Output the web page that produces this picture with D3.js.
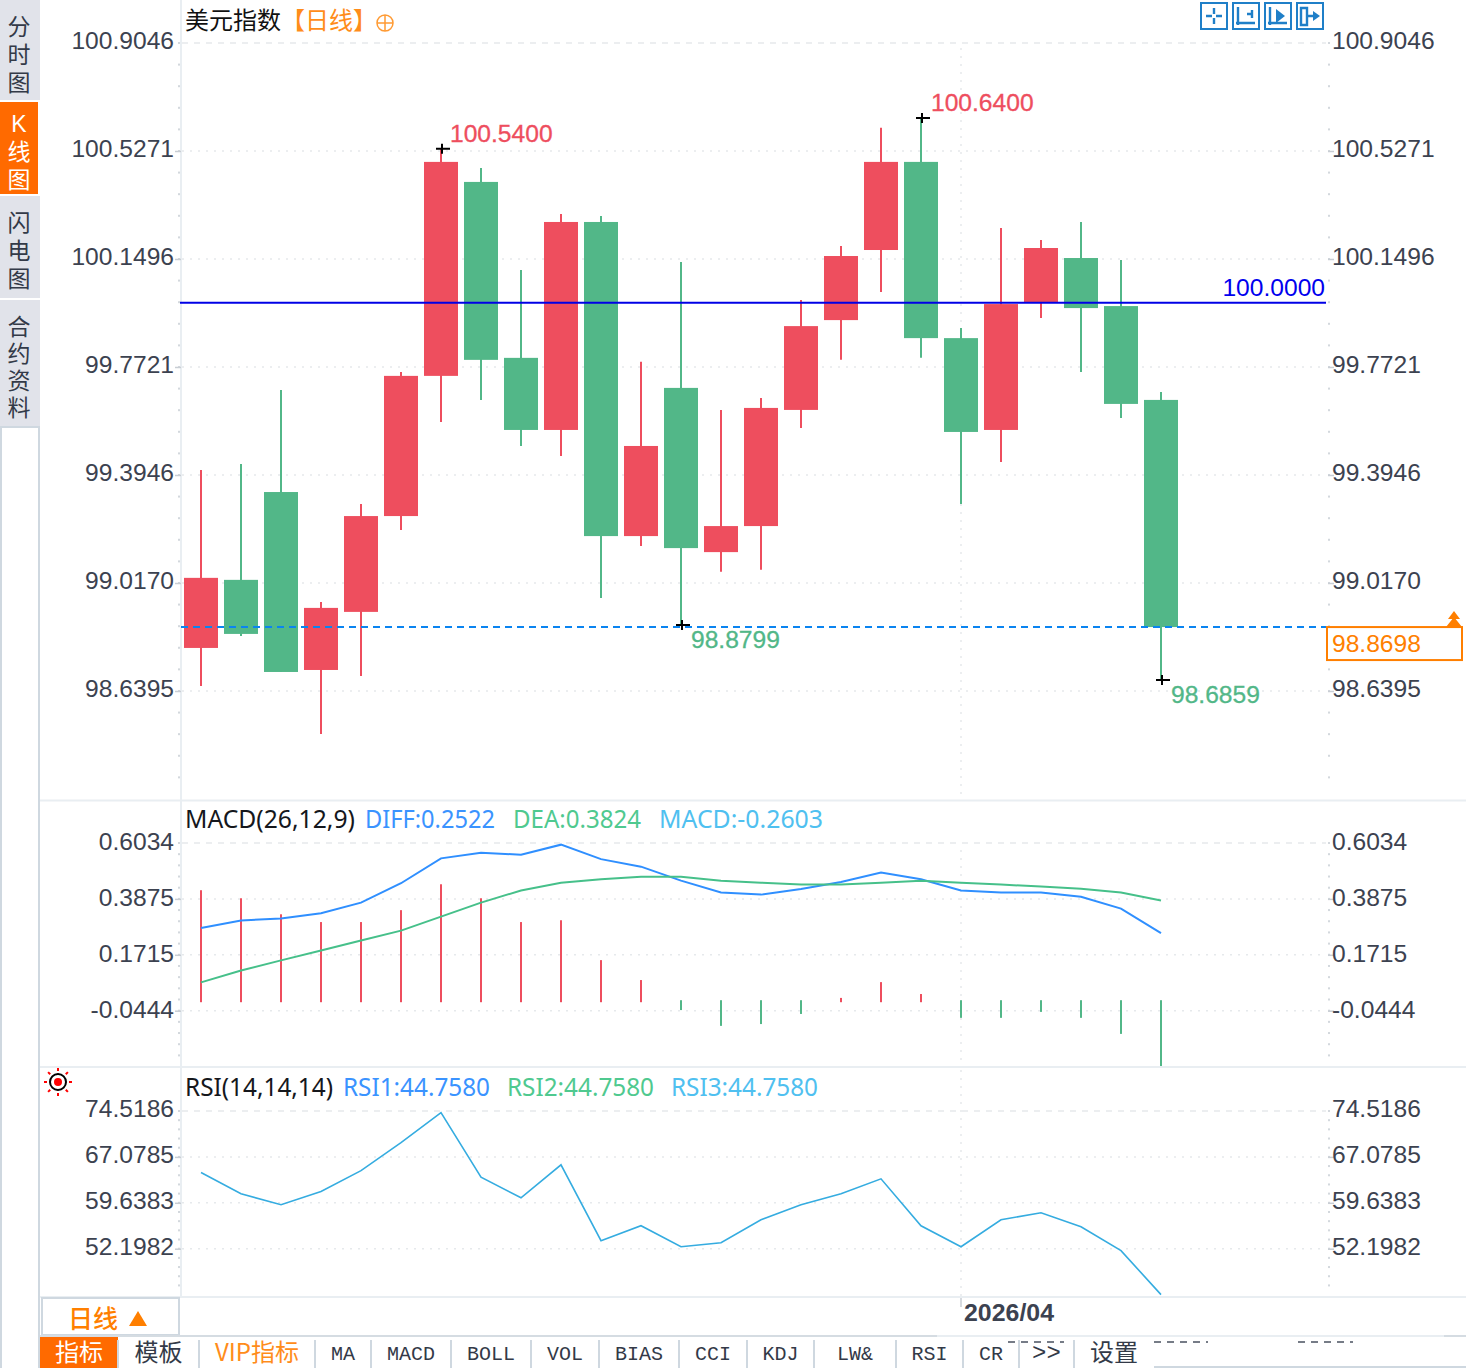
<!DOCTYPE html>
<html>
<head>
<meta charset="utf-8">
<script src="https://cdn.jsdelivr.net/npm/d3@7"></script>
<style>
  html, body { margin: 0; padding: 0; background: #fff; }
  svg { display: block; }
  text { font-family: "Liberation Sans", Arial, sans-serif; }
  .cjk { font-family: "Noto Sans CJK SC", sans-serif; }
  .tab { font-family: "Liberation Sans", "Noto Sans CJK SC", sans-serif; }
  .mono { font-family: "Liberation Mono", monospace; }
</style>
</head>
<body>
<svg id="chart" width="1466" height="1368"></svg>
<script>
// values
const opens  = [98.790, 99.028, 99.335, 98.713, 98.916, 99.251, 99.741, 100.419, 99.804, 99.552, 100.279, 99.181, 99.699, 99.125, 99.216, 99.622, 99.936, 100.181, 100.489, 99.873, 99.552, 99.999, 100.153, 99.985, 99.657];
const closes = [99.035, 98.839, 98.706, 98.930, 99.251, 99.741, 100.489, 99.797, 99.552, 100.279, 99.181, 99.496, 99.139, 99.216, 99.629, 99.915, 100.160, 100.489, 99.873, 99.545, 99.992, 100.188, 99.978, 99.643, 98.863];
const highs  = [99.412, 99.433, 99.692, 98.951, 99.293, 99.755, 100.535, 100.468, 100.111, 100.307, 100.300, 99.790, 100.139, 99.622, 99.664, 100.006, 100.195, 100.608, 100.642, 99.908, 100.258, 100.216, 100.279, 100.146, 99.685];
const lows   = [98.657, 98.832, 98.706, 98.489, 98.692, 99.202, 99.580, 99.657, 99.496, 99.461, 98.965, 99.146, 98.870, 99.056, 99.063, 99.559, 99.797, 100.034, 99.804, 99.293, 99.440, 99.943, 99.755, 99.594, 98.678];

const macdHist = [0.421, 0.390, 0.328, 0.298, 0.298, 0.344, 0.444, 0.390, 0.298, 0.305, 0.151, 0.074, -0.042, -0.103, -0.096, -0.057, 0.005, 0.066, 0.020, -0.072, -0.072, -0.049, -0.072, -0.134, -0.258];
const diff = [0.275, 0.304, 0.312, 0.332, 0.373, 0.448, 0.544, 0.566, 0.558, 0.597, 0.541, 0.512, 0.458, 0.412, 0.404, 0.426, 0.453, 0.489, 0.463, 0.420, 0.412, 0.412, 0.396, 0.350, 0.255];
const dea  = [0.065, 0.111, 0.150, 0.188, 0.227, 0.265, 0.319, 0.373, 0.420, 0.450, 0.463, 0.473, 0.473, 0.458, 0.450, 0.443, 0.443, 0.450, 0.458, 0.450, 0.443, 0.435, 0.427, 0.412, 0.381];
const rsi  = [64.54, 61.10, 59.32, 61.47, 64.86, 69.39, 74.25, 63.80, 60.45, 65.79, 53.49, 55.92, 52.52, 53.17, 56.89, 59.32, 61.10, 63.52, 55.92, 52.52, 56.89, 58.02, 55.76, 51.88, 44.758];

const mainTicks = [100.9046, 100.5271, 100.1496, 99.7721, 99.3946, 99.0170, 98.6395];
const macdTicks = [0.6034, 0.3875, 0.1715, -0.0444];
const rsiTicks  = [74.5186, 67.0785, 59.6383, 52.1982];

const refLevel = 100.0000;
const lastLevel = 98.863;
const lastLabel = "98.8698";
const monthIndex = 19;   // candle where 2026/04 starts

const sideTabs = [["分","时","图"], ["K","线","图"], ["闪","电","图"], ["合","约","资","料"]];
const bottomTabs = ["指标","模板","VIP指标","MA","MACD","BOLL","VOL","BIAS","CCI","KDJ","LW&","RSI","CR",">>","设置"];
const bottomEdges = [40, 118, 199, 315, 371, 451, 531, 599, 679, 747, 814, 896, 963, 1019, 1074, 1154];

const red = "#ee4e5e", green = "#52b788";
const gridCol = "#e6e9ec", lineCol = "#e9eef2", labelCol = "#3c4250";

const svg = d3.select("#chart");
const x = d3.scalePoint().domain(d3.range(opens.length)).range([201, 1161]);
const yMain = d3.scaleLinear().domain([100.9046, 98.6395]).range([43, 691]);
const yMacd = d3.scaleLinear().domain([0.6034, -0.0444]).range([843, 1010.7]);
const yRsi  = d3.scaleLinear().domain([74.5186, 52.1982]).range([1111, 1248.7]);

// left tabs
const tabY = [[0, 100], [102, 194], [196, 298], [300, 426]];
const tabBase = [35, 132, 231, 335];
sideTabs.forEach((chars, i) => {
  const on = i === 1;
  svg.append("rect").attr("x", 0).attr("y", tabY[i][0]).attr("width", on ? 38 : 40)
    .attr("height", tabY[i][1] - tabY[i][0]).attr("fill", on ? "#ff6a00" : "#e1e3ea");
  const step = i === 3 ? 27 : 28;
  chars.forEach((c, j) => {
    svg.append("text").attr("class", "tab").attr("x", 19).attr("y", tabBase[i] + j * step)
      .attr("text-anchor", "middle").attr("font-size", 23)
      .attr("fill", on ? "#fff" : "#333a48").text(c);
  });
});
svg.append("line").attr("x1", 39).attr("x2", 39).attr("y1", 426).attr("y2", 1368).attr("stroke", "#cfd8e0").attr("stroke-width", 2);
svg.append("line").attr("x1", 1).attr("x2", 1).attr("y1", 426).attr("y2", 1368).attr("stroke", "#cfd8e0").attr("stroke-width", 2);
svg.append("line").attr("x1", 0).attr("x2", 40).attr("y1", 427).attr("y2", 427).attr("stroke", "#cfd8e0").attr("stroke-width", 2);

// frame lines
[800.5, 1067, 1297].forEach(py => {
  svg.append("line").attr("x1", 40).attr("x2", 1466).attr("y1", py).attr("y2", py).attr("stroke", lineCol).attr("stroke-width", 2);
});
svg.append("line").attr("x1", 181).attr("x2", 181).attr("y1", 0).attr("y2", 1297).attr("stroke", lineCol).attr("stroke-width", 2);

// one price pane: grid, dotted minor ticks, both axes
function drawPane(scale, ticks, top, bottom, minorStep, labelShift) {
  const g = svg.append("g");
  ticks.forEach((t, i) => {
    g.append("line").attr("x1", 182).attr("x2", 1326).attr("y1", scale(t)).attr("y2", scale(t))
      .attr("stroke", gridCol).attr("stroke-width", 1.5)
      .attr("stroke-dasharray", i === 0 ? "6,6" : "2,6");
  });
  const stepVal = (ticks[0] - ticks[1]) / minorStep;
  const minors = d3.range(0, 60).map(k => ticks[0] - k * stepVal)
    .filter(v => scale(v) <= bottom && scale(v) >= top);
  [178, 1328].forEach(mx => {
    g.selectAll(null).data(minors).join("rect")
      .attr("x", mx).attr("y", d => scale(d) - 1).attr("width", 2).attr("height", 2).attr("fill", "#d3d8dd");
  });
  const fmt = d => d3.format(".4f")(d).replace("\u2212", "-");
  const left = d3.axisLeft(scale).tickValues(ticks).tickFormat(fmt).tickSize(6).tickPadding(1);
  const right = d3.axisRight(scale).tickValues(ticks).tickFormat(fmt).tickSize(6).tickPadding(-2);
  [[left, 181], [right, 1328]].forEach(([ax, ox]) => {
    const a = g.append("g").attr("transform", `translate(${ox},0)`).call(ax);
    a.select(".domain").remove();
    a.selectAll(".tick line").attr("stroke", d => d === ticks[0] ? "none" : "#c9ced4").attr("stroke-width", 1.5);
    a.selectAll("text").attr("font-size", 24.6).attr("fill", labelCol)
      .attr("transform", `translate(0,${labelShift})`)
      .style("font-family", '"Liberation Sans", Arial, sans-serif');
  });
}
drawPane(yMain, mainTicks, 43, 790, 5, -2);
drawPane(yMacd, macdTicks, 843, 1064, 5, -1);
drawPane(yRsi, rsiTicks, 1111, 1294, 5, -2);

// month divider
[[48, 800], [850, 1066], [1070, 1297]].forEach(([a, b]) => {
  svg.append("line").attr("x1", x(monthIndex)).attr("x2", x(monthIndex)).attr("y1", a).attr("y2", b)
    .attr("stroke", gridCol).attr("stroke-width", 1.5).attr("stroke-dasharray", "2,6");
});
svg.append("line").attr("x1", x(monthIndex)).attr("x2", x(monthIndex)).attr("y1", 1298).attr("y2", 1307)
  .attr("stroke", "#c9ced4").attr("stroke-width", 1.5);

// candles
const candles = d3.range(opens.length);
const col = i => closes[i] >= opens[i] ? red : green;
svg.selectAll(null).data(candles).join("line")
  .attr("x1", d => x(d)).attr("x2", d => x(d))
  .attr("y1", d => yMain(highs[d])).attr("y2", d => yMain(lows[d]))
  .attr("stroke", col).attr("stroke-width", 2);
svg.selectAll(null).data(candles).join("rect")
  .attr("x", d => x(d) - 17).attr("width", 34)
  .attr("y", d => yMain(Math.max(opens[d], closes[d])))
  .attr("height", d => Math.abs(yMain(opens[d]) - yMain(closes[d])))
  .attr("fill", col);

// reference and last price lines
svg.append("line").attr("x1", 180).attr("x2", 1326).attr("y1", yMain(refLevel) + 1).attr("y2", yMain(refLevel) + 1)
  .attr("stroke", "#0000e6").attr("stroke-width", 2);
svg.append("text").attr("x", 1325).attr("y", yMain(refLevel) - 6).attr("text-anchor", "end")
  .attr("font-size", 24.6).attr("fill", "#0000ee").text("100.0000");
svg.append("line").attr("x1", 181).attr("x2", 1326).attr("y1", yMain(lastLevel)).attr("y2", yMain(lastLevel))
  .attr("stroke", "#0a84f0").attr("stroke-width", 2).attr("stroke-dasharray", "7,5");
svg.append("rect").attr("x", 1327).attr("y", yMain(lastLevel)).attr("width", 135).attr("height", 33)
  .attr("fill", "#fff").attr("stroke", "#ff7f00").attr("stroke-width", 2);
svg.append("text").attr("x", 1332).attr("y", yMain(lastLevel) + 25).attr("font-size", 24.6).attr("fill", "#ff8000").text(lastLabel);
svg.append("path").attr("d", "M1446,627 L1454,617 L1462,627 Z M1448,619 L1454,611 L1460,619 Z").attr("fill", "#ff7f00");

// high / low marks
const marks = [[6, highs[6], "100.5400", red, 9, -7], [18, highs[18], "100.6400", red, 10, -7], [12, lows[12], "98.8799", green, 10, 23], [24, lows[24], "98.6859", green, 10, 23]];
marks.forEach(([i, v, label, c, dx, dy]) => {
  const mx = x(i), my = yMain(v);
  svg.append("path").attr("d", `M${mx - 5},${my}H${mx + 9}M${mx + 1},${my - 5}V${my + 5}`).attr("stroke", "#000").attr("stroke-width", 2);
  svg.append("text").attr("x", mx + dx).attr("y", my + dy).attr("font-size", 24.6).attr("fill", c)
    .attr("stroke", c).attr("stroke-width", 0.3).text(label);
});

// macd pane
const barBase = yMacd(0);
svg.selectAll(null).data(candles).join("rect")
  .attr("x", d => x(d) - 1).attr("width", 2)
  .attr("y", d => macdHist[d] >= 0 ? yMacd(macdHist[d]) : barBase + 1)
  .attr("height", d => macdHist[d] >= 0 ? barBase + 3 - yMacd(macdHist[d]) : yMacd(macdHist[d]) - barBase - 1)
  .attr("fill", d => macdHist[d] >= 0 ? red : green);
const lineOf = (scale, vals) => d3.line().x((d, i) => x(i)).y(d => scale(d))(vals);
svg.append("path").attr("d", lineOf(yMacd, diff)).attr("fill", "none").attr("stroke", "#2f8fff").attr("stroke-width", 2);
svg.append("path").attr("d", lineOf(yMacd, dea)).attr("fill", "none").attr("stroke", "#46c08a").attr("stroke-width", 2);

// rsi pane
svg.append("path").attr("d", lineOf(yRsi, rsi)).attr("fill", "none").attr("stroke", "#35ace0").attr("stroke-width", 1.6);

// sun marker beside the rsi title
const sun = svg.append("g").attr("transform", "translate(58,1082)");
sun.append("circle").attr("r", 8).attr("fill", "#fff").attr("stroke", "#000").attr("stroke-width", 2);
sun.append("circle").attr("r", 4).attr("fill", "#f00");
d3.range(8).forEach(k => {
  const a = k * Math.PI / 4;
  sun.append("line").attr("x1", 11 * Math.cos(a)).attr("y1", 11 * Math.sin(a))
    .attr("x2", 14 * Math.cos(a)).attr("y2", 14 * Math.sin(a))
    .attr("stroke", "#f00").attr("stroke-width", 2);
});

// pane titles
function legend(items, py) {
  items.forEach(([txt, px, end, c]) => {
    svg.append("text").attr("x", px).attr("y", py).attr("font-size", 24.6).attr("fill", c)
      .style("font-family", '"Noto Sans", sans-serif')
      .attr("textLength", end - px).attr("lengthAdjust", "spacingAndGlyphs").text(txt);
  });
}
legend([["MACD(26,12,9)", 185, 355, "#15171c"], ["DIFF:0.2522", 365, 495, "#3a93ff"], ["DEA:0.3824", 513, 641, "#4fc98f"], ["MACD:-0.2603", 659, 823, "#4fc0f0"]], 828);
legend([["RSI(14,14,14)", 185, 333, "#15171c"], ["RSI1:44.7580", 343, 490, "#3a93ff"], ["RSI2:44.7580", 507, 654, "#4fc98f"], ["RSI3:44.7580", 671, 818, "#4fc0f0"]], 1096);
svg.append("text").attr("class", "cjk").attr("x", 185).attr("y", 29).attr("font-size", 24).attr("fill", "#111").text("美元指数");
svg.append("text").attr("class", "cjk").attr("x", 281).attr("y", 29).attr("font-size", 24).attr("fill", "#ff8c1a").text("【日线】");
svg.append("circle").attr("cx", 385).attr("cy", 23).attr("r", 8).attr("fill", "none").attr("stroke", "#ff9a33").attr("stroke-width", 1.5);
svg.append("path").attr("d", "M377,23H393M385,15V31").attr("stroke", "#ff9a33").attr("stroke-width", 1.5);

// toolbar buttons
const toolX = [1201, 1233, 1265, 1297];
const toolGlyph = [
  "M1214,8v6M1214,18v6M1206,16h6M1216,16h6",
  "M1238,7v18M1236,23h19M1247,14h5M1252,10v8",
  "M1270,7v18M1268,23h19",
  "M1301,8h6v17h-6zM1306,16h8"
];
const toolFill = ["", "", "M1276,9l9,7-9,7z", "M1313,11l7,5-7,5z"];
toolX.forEach((tx, i) => {
  svg.append("rect").attr("x", tx).attr("y", 3).attr("width", 26).attr("height", 26).attr("fill", "#fff").attr("stroke", "#1f7fc8").attr("stroke-width", 2);
  svg.append("path").attr("d", toolGlyph[i]).attr("fill", "none").attr("stroke", "#1f7fc8").attr("stroke-width", 2.4);
  if (toolFill[i]) svg.append("path").attr("d", toolFill[i]).attr("fill", "#1f7fc8");
});

// bottom bar
svg.append("rect").attr("x", 42).attr("y", 1298).attr("width", 137).attr("height", 37).attr("fill", "#fff").attr("stroke", "#cfd8e0").attr("stroke-width", 2);
svg.append("text").attr("class", "cjk").attr("x", 68).attr("y", 1328).attr("font-size", 25).attr("font-weight", 500).attr("fill", "#ff7f00").text("日线");
svg.append("path").attr("d", "M129,1326L138,1311L147,1326Z").attr("fill", "#ff7f00");
svg.append("text").attr("x", 964).attr("y", 1321).attr("font-size", 24).attr("font-weight", "bold").attr("fill", labelCol)
  .attr("textLength", 90).attr("lengthAdjust", "spacingAndGlyphs").text("2026/04");

svg.append("line").attr("x1", 40).attr("x2", 937).attr("y1", 1336).attr("y2", 1336).attr("stroke", "#d5dce2").attr("stroke-width", 2);
svg.append("line").attr("x1", 937).attr("x2", 1444).attr("y1", 1336).attr("y2", 1336).attr("stroke", lineCol).attr("stroke-width", 2);
svg.append("line").attr("x1", 1444).attr("x2", 1466).attr("y1", 1336).attr("y2", 1336).attr("stroke", "#d5dce2").attr("stroke-width", 2);
bottomTabs.forEach((t, i) => {
  const a = bottomEdges[i], b = bottomEdges[i + 1], on = i === 0;
  if (on) svg.append("rect").attr("x", a).attr("y", 1337).attr("width", b - a).attr("height", 31).attr("fill", "#ff6a00");
  else svg.append("line").attr("x1", a).attr("x2", a).attr("y1", 1340).attr("y2", 1368).attr("stroke", "#cfd8e0").attr("stroke-width", 2);
  const hasCjk = /[^\x00-\x7f]/.test(t);
  const big = t === ">>";
  svg.append("text").attr("class", hasCjk ? "cjk" : "mono").attr("x", (a + b) / 2).attr("y", hasCjk ? 1361 : 1360)
    .attr("text-anchor", "middle").attr("font-size", hasCjk ? 24 : (big ? 24 : 20))
    .attr("fill", on ? "#fff" : (i === 2 ? "#ff8c1a" : "#333a48")).text(t);
});
svg.append("line").attr("x1", 1154).attr("x2", 1466).attr("y1", 1367).attr("y2", 1367).attr("stroke", "#cfd8e0").attr("stroke-width", 2);
// clipped leftovers along the top of the bottom bar
[[1008, 1064], [1154, 1208], [1298, 1353]].forEach(([a, b]) => {
  svg.append("line").attr("x1", a).attr("x2", b).attr("y1", 1342).attr("y2", 1342)
    .attr("stroke", "#4a5160").attr("stroke-width", 1.5).attr("stroke-dasharray", "7,6");
});
</script>
</body>
</html>
